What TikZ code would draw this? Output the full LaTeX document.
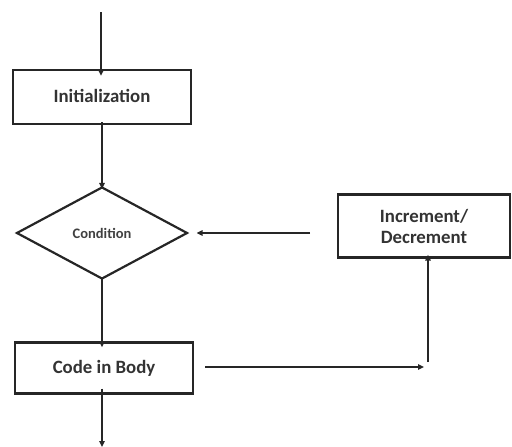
\documentclass[tikz,border=0pt]{standalone}
\usepackage{fontspec}
\setmainfont{Carlito}
\usetikzlibrary{arrows.meta,shapes.geometric}
\begin{document}
\begin{tikzpicture}[x=1pt,y=-1pt,
  box/.style={draw=black!85,line width=2.4pt,minimum width=178pt,inner sep=0pt,font=\bfseries\fontsize{18.8}{22}\selectfont,text=black!80},
  dia/.style={draw=black!85,line width=2.2pt,diamond,aspect=1.85,minimum width=171pt,minimum height=92pt,inner sep=0pt,font=\bfseries\fontsize{14.5}{16}\selectfont,text=black!75},
  arr/.style={draw=black!85,line width=2.2pt,-{Triangle[length=6pt,width=5.5pt]}}]
\useasboundingbox (0,0) rectangle (512,447);
\node[box,minimum height=54pt] (init) at (102,97) {\raisebox{3pt}{Initialization}};
\node[dia] (cond) at (102,233) {Condition};
\node[box,minimum height=51pt] (body) at (104,368) {\raisebox{3pt}{Code in Body}};
\node[draw=black!85,line width=2.4pt,minimum width=172pt,minimum height=63pt,inner sep=0pt,font=\bfseries\fontsize{18.8}{21}\selectfont,text=black!80,align=center] (inc) at (424,226) {Increment/\\Decrement};
\coordinate (top) at (101,12);
\coordinate (bot) at (102,447);
\coordinate (incL) at (310,233);
\coordinate (bodyR) at (205,367);
\coordinate (turnH) at (424,367);
\coordinate (turnV) at (428,362);
\draw[arr] (top) -- ([yshift=-7pt]init.north -| top);
\draw[arr] ([yshift=3pt]init.south) -- ([yshift=-3pt]cond.north);
\draw[arr] (incL) -- ([xshift=8pt]cond.east);
\draw[arr] ([yshift=3pt]cond.south) -- ([yshift=-6pt]body.north -| cond.south);
\draw[arr] ([yshift=6pt]body.south -| cond.south) -- (bot);
\draw[arr] (bodyR) -- (turnH);
\draw[arr] (turnV) -- ([yshift=4pt]inc.south -| turnV);
\end{tikzpicture}
\end{document}
